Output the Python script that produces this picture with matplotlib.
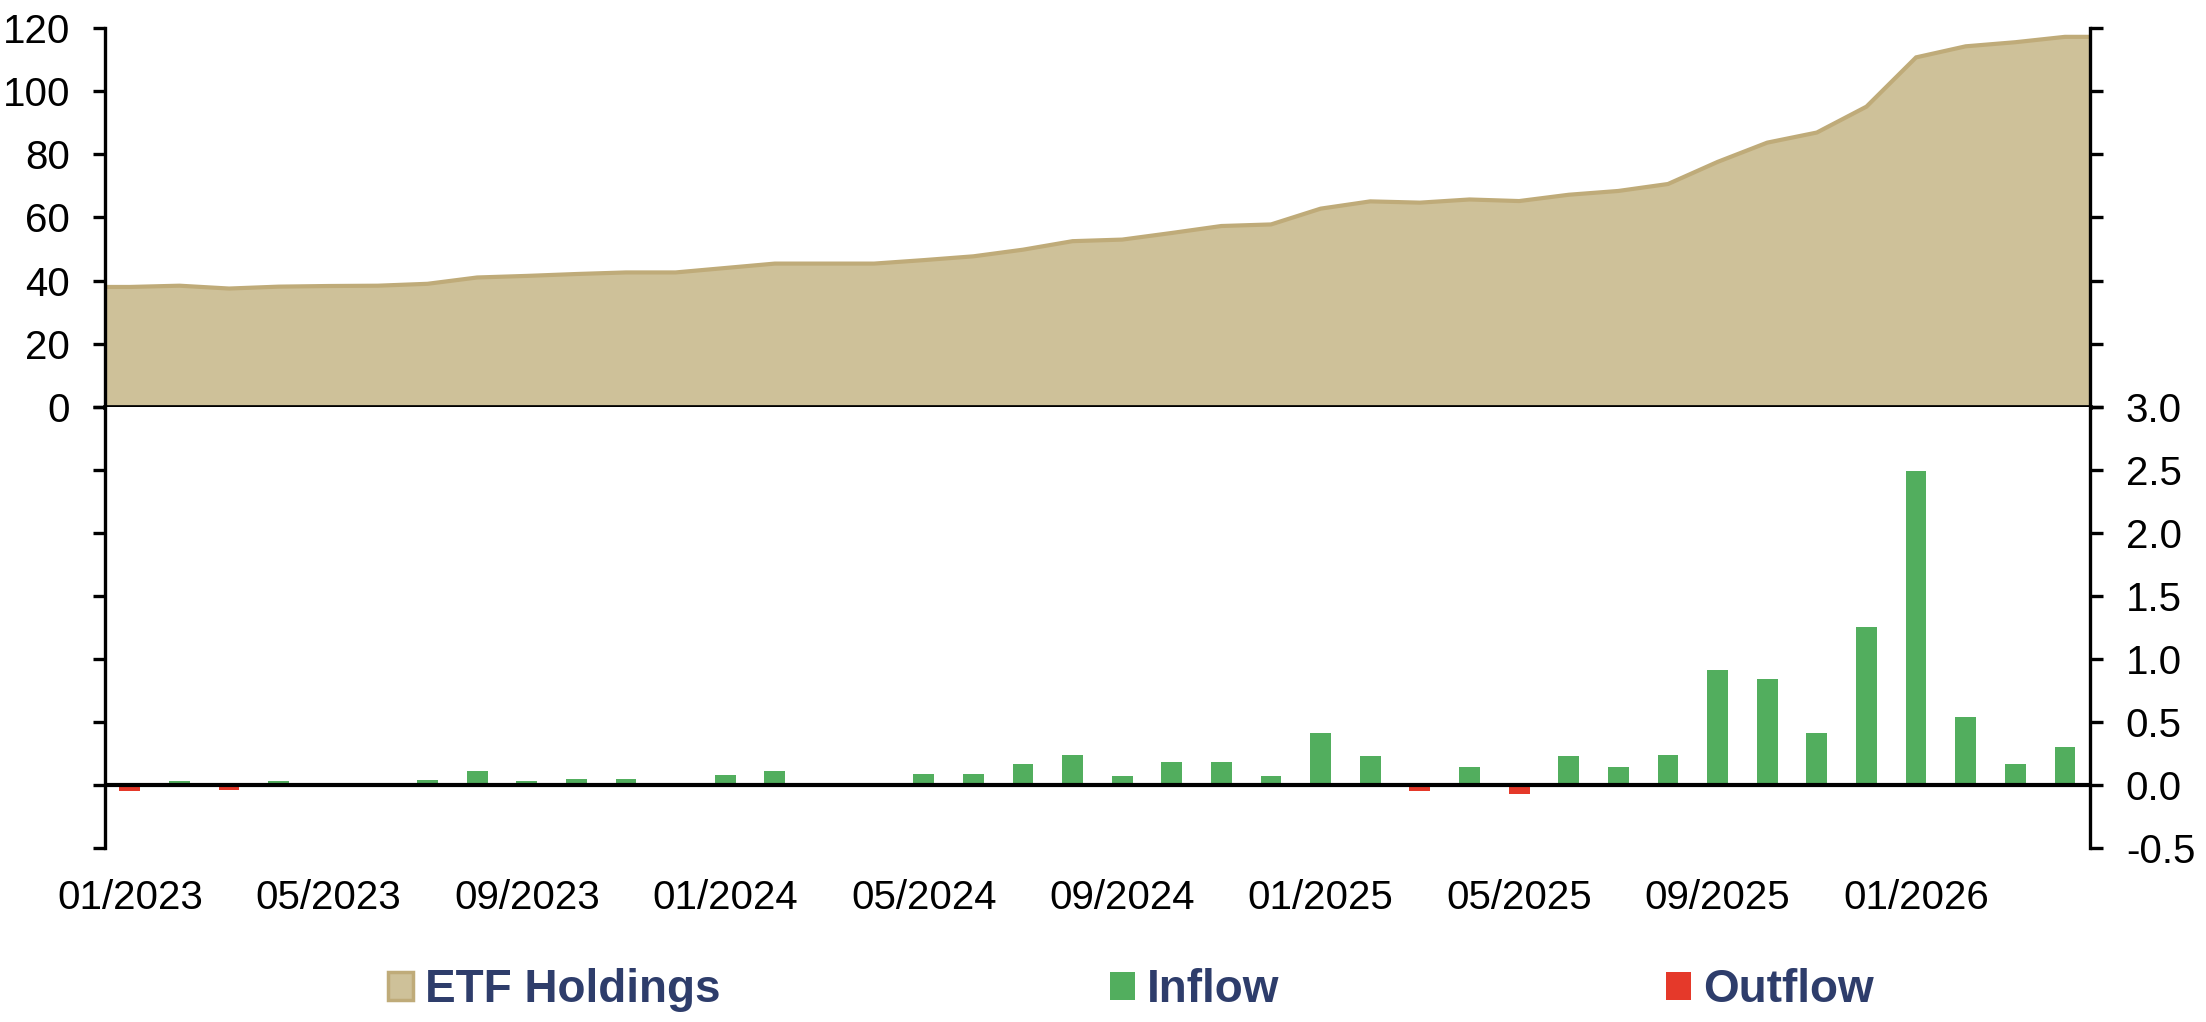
import numpy as np
import matplotlib
matplotlib.use("Agg")
import matplotlib.pyplot as plt
from matplotlib.patches import Patch

plt.rcParams['font.family'] = ['Liberation Sans', 'DejaVu Sans']

# monthly data, 01/2023 .. 04/2026
months = ["01/2023", "02/2023", "03/2023", "04/2023", "05/2023", "06/2023",
          "07/2023", "08/2023", "09/2023", "10/2023", "11/2023", "12/2023",
          "01/2024", "02/2024", "03/2024", "04/2024", "05/2024", "06/2024",
          "07/2024", "08/2024", "09/2024", "10/2024", "11/2024", "12/2024",
          "01/2025", "02/2025", "03/2025", "04/2025", "05/2025", "06/2025",
          "07/2025", "08/2025", "09/2025", "10/2025", "11/2025", "12/2025",
          "01/2026", "02/2026", "03/2026", "04/2026"]

etf_holdings = [38.0, 38.4, 37.5, 38.1, 38.3, 38.4, 39.0, 41.0, 41.5, 42.1,
                42.6, 42.6, 44.0, 45.4, 45.4, 45.4, 46.5, 47.7, 49.8, 52.5,
                53.0, 55.1, 57.3, 57.8, 62.8, 65.1, 64.7, 65.7, 65.2, 67.2,
                68.4, 70.6, 77.6, 83.7, 86.9, 95.1, 110.7, 114.2, 115.5, 117.2]

flows = [-0.05, 0.03, -0.04, 0.03, 0.0, 0.0, 0.04, 0.11, 0.03, 0.05,
         0.05, 0.0, 0.08, 0.11, 0.0, 0.0, 0.09, 0.09, 0.17, 0.24,
         0.07, 0.18, 0.18, 0.07, 0.41, 0.23, -0.045, 0.14, -0.07, 0.23,
         0.14, 0.24, 0.91, 0.84, 0.41, 1.25, 2.49, 0.54, 0.17, 0.30]

label_months = months[::4]

TAN_FILL = "#CEC199"
TAN_EDGE = "#BFAB79"
GREEN = "#52AE5E"
RED = "#E5392A"
NAVY = "#2E3D6B"

x = np.arange(len(months))
flows = np.array(flows)
inflow = np.where(flows > 0, flows, 0)
outflow = np.where(flows < 0, flows, 0)

fig = plt.figure(figsize=(22.06, 10.22), dpi=100)
ax1 = fig.add_axes([0.0476, 0.6018, 0.8997, 0.3708])
ax2 = fig.add_axes([0.0476, 0.1703, 0.8997, 0.4315])

# top: area of holdings, flat to the edges of the plot
xa = np.concatenate([[-0.5], x, [len(x) - 0.5]])
ya = np.concatenate([[etf_holdings[0]], etf_holdings, [etf_holdings[-1]]])
ax1.fill_between(xa, 0, ya, color=TAN_FILL, lw=0)
ax1.plot(xa, ya, color=TAN_EDGE, lw=3, solid_joinstyle='miter')
ax1.set_xlim(-0.5, len(x) - 0.5)
ax1.set_ylim(0, 120)
ax1.set_yticks(np.arange(0, 121, 20))
ax1.set_xticks(np.arange(3.5, len(x) - 1, 4))
ax1.tick_params(axis='x', direction='out', length=9, width=2.4, labelbottom=False)
ax1.tick_params(axis='y', direction='out', length=9, width=2.4, labelsize=29,
                pad=16, right=True)
ax1.spines['top'].set_visible(False)
for s in ['left', 'right']:
    ax1.spines[s].set_linewidth(2.4)
ax1.spines['bottom'].set_linewidth(3.4)

# bottom: flows
ax2.bar(x, inflow, width=0.42, color=GREEN)
ax2.bar(x, outflow, width=0.42, color=RED)
ax2.axhline(0, color='black', lw=3)
ax2.set_xlim(-0.5, len(x) - 0.5)
ax2.set_ylim(-0.5, 3.0)
ax2.set_yticks(np.arange(-0.5, 3.01, 0.5))
ax2.yaxis.set_major_formatter(matplotlib.ticker.FormatStrFormatter('%.1f'))
ax2.tick_params(axis='y', direction='out', length=9, width=2.4, labelsize=29,
                left=True, right=True, labelleft=False, labelright=True, pad=17)
ax2.set_xticks(x[::4])
ax2.set_xticklabels(label_months)
ax2.tick_params(axis='x', length=0, labelsize=29, pad=22)
ax2.spines['top'].set_visible(False)
ax2.spines['bottom'].set_visible(False)
for s in ['left', 'right']:
    ax2.spines[s].set_linewidth(2.4)

# legend, three separate entries spread across the bottom
entries = [("ETF Holdings", Patch(facecolor=TAN_FILL, edgecolor=TAN_EDGE, lw=2.5), 0.176),
           ("Inflow", Patch(facecolor=GREEN), 0.503),
           ("Outflow", Patch(facecolor=RED), 0.755)]
for name, handle, xpos in entries:
    fig.legend([handle], [name], loc='center left', bbox_to_anchor=(xpos, 0.031),
               frameon=False, handlelength=0.55, handleheight=0.55,
               handletextpad=0.26, borderaxespad=0, borderpad=0,
               prop={'size': 33, 'weight': 'bold'}, labelcolor=NAVY)

fig.savefig("out.png", dpi=100)
